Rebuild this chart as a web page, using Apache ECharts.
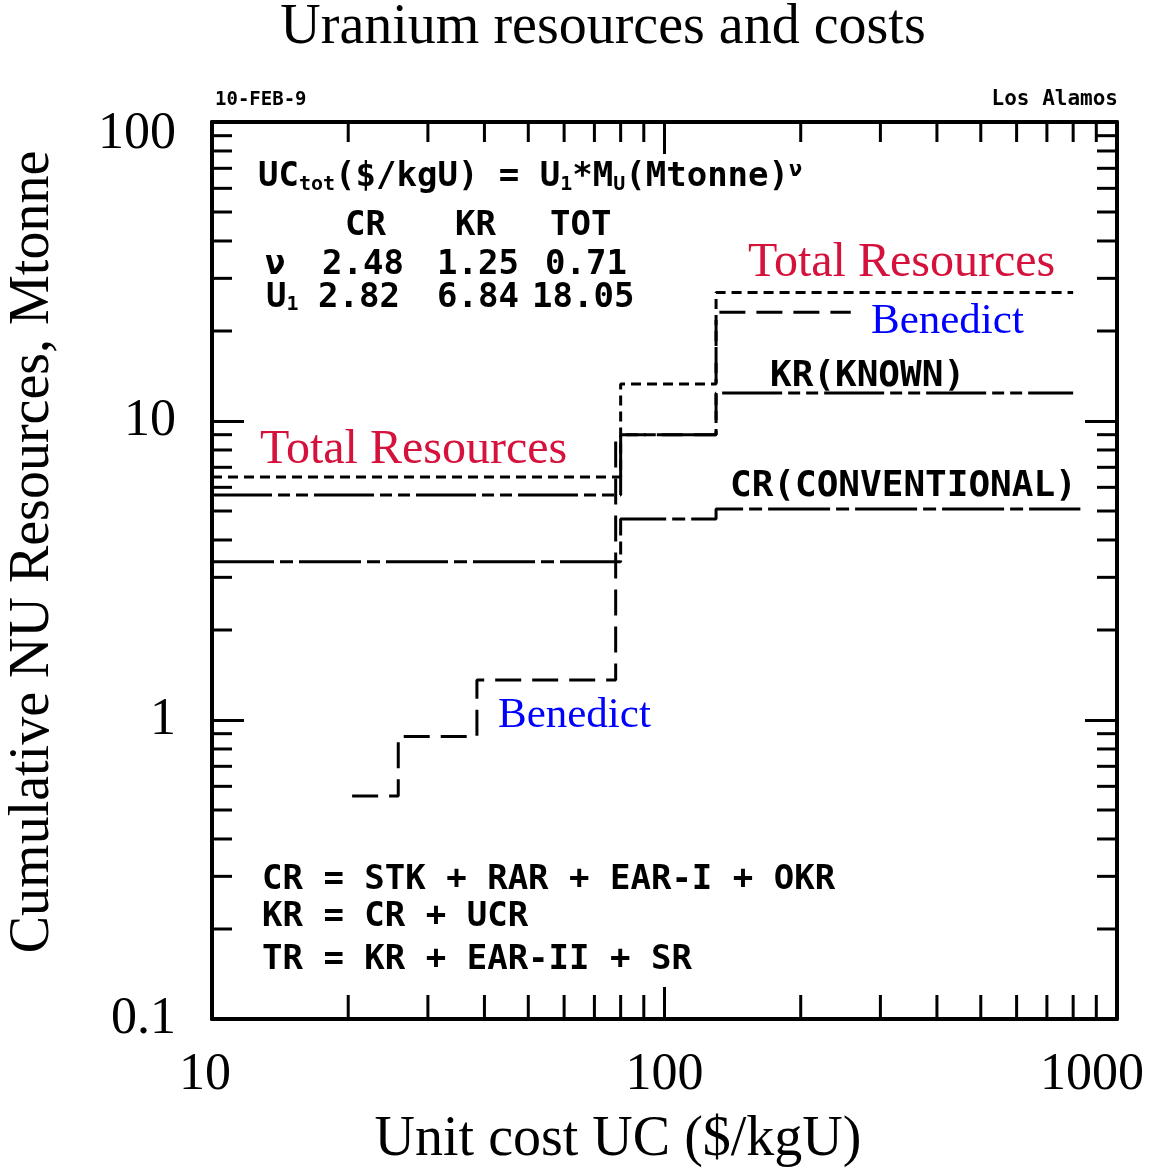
<!DOCTYPE html>
<html>
<head>
<meta charset="utf-8">
<script src="https://cdn.jsdelivr.net/npm/echarts@6/dist/echarts.min.js"></script>
<style>
html,body{margin:0;padding:0;background:#fff;}
#chart{width:1154px;height:1176px;}
</style>
</head>
<body>
<div id="chart"></div>
<script>
// ---- data ----
const totCost = [10, 80, 80, 130, 130, 800];
const totRes  = [6.5, 6.5, 13.3, 13.3, 26.9, 26.9];
const krCost  = [10, 80, 80, 130, 130, 800];
const krRes   = [5.66, 5.66, 9.0, 9.0, 12.4, 12.4];
const crCost  = [10, 80, 80, 130, 130, 830];
const crRes   = [3.38, 3.38, 4.7, 4.7, 5.08, 5.08];
const benCost = [20.4, 25.8, 25.8, 38.5, 38.5, 78, 78, 130, 130, 258];
const benRes  = [0.557, 0.557, 0.88, 0.88, 1.36, 1.36, 9.0, 9.0, 23.1, 23.1];

const xMinorTicks = [20, 30, 40, 50, 60, 70, 80, 90, 200, 300, 400, 500, 600, 700, 800, 900];
const yMinorTicks = [0.2, 0.3, 0.4, 0.5, 0.6, 0.7, 0.8, 0.9, 2, 3, 4, 5, 6, 7, 8, 9, 20, 30, 40, 50, 60, 70, 80, 90];

const X_MIN = 10, X_MAX = 1000, Y_MIN = 0.1, Y_MAX = 100;

const tableHead = ['CR', 'KR', 'TOT'];
const tableNu   = ['2.48', '1.25', '0.71'];
const tableU1   = ['2.82', '6.84', '18.05'];
const defLines  = ['CR = STK + RAR + EAR-I + OKR', 'KR = CR + UCR', 'TR = KR + EAR-II + SR'];

// ---- helpers ----
const pair = (xs, ys) => xs.map((x, i) => [x, ys[i]]);
const SERIF = '"Liberation Serif", "DejaVu Serif", serif';
const MONO = '"DejaVu Sans Mono", "Liberation Mono", monospace';

function txt(text, x, y, opt) {
  opt = opt || {};
  return {
    type: 'text', x: x, y: y, rotation: opt.rotation || 0, z: 50,
    style: {
      text: text,
      fill: opt.fill || '#000',
      fontSize: opt.size || 34,
      fontFamily: opt.family || MONO,
      fontWeight: opt.weight || 'bold',
      textAlign: opt.align || 'left',
      textVerticalAlign: 'middle',
      rich: opt.rich
    }
  };
}

const chart = echarts.init(document.getElementById('chart'), null, {renderer: 'canvas'});

const axisCommon = {
  type: 'log', logBase: 10,
  splitLine: {show: false},
  axisLine: {show: true, onZero: false, lineStyle: {color: '#000', width: 4}},
  axisTick: {show: true, inside: true, length: 32, lineStyle: {color: '#000', width: 3}},
  minorTick: {show: false}
};

function tickLine(x1, y1, x2, y2) {
  return {type: 'line', shape: {x1: x1, y1: y1, x2: x2, y2: y2}, style: {stroke: '#000', lineWidth: 3}};
}

const lineBase = (name, data, dash) => ({
  name: name, type: 'line', data: data, showSymbol: false, symbol: 'none',
  xAxisIndex: 0, yAxisIndex: 0,
  lineStyle: {color: '#000', width: 3, type: dash},
  z: 5, silent: true, clip: false
});

const rich = {
  m: {fontSize: 34, fontFamily: MONO, fontWeight: 'bold', fill: '#000'},
  s: {fontSize: 20, fontFamily: MONO, fontWeight: 'bold', fill: '#000', verticalAlign: 'bottom', padding: [14, 0, 0, 0]},
  p: {fontSize: 22, fontFamily: MONO, fontWeight: 'bold', fill: '#000', verticalAlign: 'top', padding: [0, 0, 14, 0]}
};

const graphics = [
  txt('Uranium resources and costs', 603, 28, {family: SERIF, weight: 'normal', size: 56, align: 'center'}),
  txt('Cumulative NU Resources, Mtonne', 33, 552, {family: SERIF, weight: 'normal', size: 56, align: 'center', rotation: Math.PI / 2}),
  txt('Unit cost UC ($/kgU)', 618, 1140, {family: SERIF, weight: 'normal', size: 56, align: 'center'}),
  txt('10-FEB-9', 215, 100, {size: 19}),
  txt('Los Alamos', 1118, 100, {size: 21, align: 'right'}),
  txt('{m|UC}{s|tot}{m|($/kgU) = U}{s|1}{m|*M}{s|U}{m|(Mtonne)}{p|\u03BD}', 258, 177, {rich: rich}),
  txt(tableHead[0], 345, 226), txt(tableHead[1], 455, 226), txt(tableHead[2], 550, 226),
  txt('\u03BD', 265, 265), txt(tableNu[0], 322, 265), txt(tableNu[1], 437, 265), txt(tableNu[2], 545, 265),
  txt('{m|U}{s|1}', 266, 298, {rich: rich}), txt(tableU1[0], 318, 298), txt(tableU1[1], 437, 298), txt(tableU1[2], 532, 298),
  txt('KR(KNOWN)', 770, 377, {size: 36}),
  txt('CR(CONVENTIONAL)', 730, 487, {size: 36}),
  txt(defLines[0], 262, 880), txt(defLines[1], 262, 917), txt(defLines[2], 262, 960),
  txt('Total Resources', 260, 450, {family: SERIF, weight: 'normal', size: 48, fill: '#d4123c'}),
  txt('Total Resources', 748, 263, {family: SERIF, weight: 'normal', size: 48, fill: '#d4123c'}),
  txt('Benedict', 498, 716, {family: SERIF, weight: 'normal', size: 43, fill: '#0000ff'}),
  txt('Benedict', 871, 322, {family: SERIF, weight: 'normal', size: 43, fill: '#0000ff'})
];

const lab = {fontSize: 52, fontFamily: SERIF, color: '#000'};
const xLabelRich = {
  n: Object.assign({}, lab),
  l10: Object.assign({}, lab, {padding: [0, 14, 0, 0]}),
  l1000: Object.assign({}, lab, {padding: [0, 50, 0, 0]})
};
const yLabelRich = {
  n: Object.assign({}, lab),
  top: Object.assign({}, lab, {padding: [24, 0, 0, 0]})
};

const option = {
  animation: false,
  backgroundColor: '#fff',
  grid: {left: 212, right: 37, top: 122, bottom: 157, containLabel: false, outerBoundsMode: 'none'},
  xAxis: [
    Object.assign({}, axisCommon, {
      position: 'bottom', min: X_MIN, max: X_MAX,
      axisLabel: {show: true, color: '#000', fontSize: 52, fontFamily: SERIF, margin: 30, rich: xLabelRich,
        formatter: v => v === 1000 ? '{l1000|1000}' : (v === 10 ? '{l10|10}' : '{n|' + v + '}')}
    }),
    Object.assign({}, axisCommon, {
      position: 'top', min: X_MIN, max: X_MAX, axisLabel: {show: false}
    })
  ],
  yAxis: [
    Object.assign({}, axisCommon, {
      position: 'left', min: Y_MIN, max: Y_MAX,
      axisLabel: {show: true, color: '#000', fontSize: 52, fontFamily: SERIF, margin: 36, rich: yLabelRich,
        formatter: v => v === 100 ? '{top|100}' : '{n|' + v + '}'}
    }),
    Object.assign({}, axisCommon, {
      position: 'right', min: Y_MIN, max: Y_MAX, axisLabel: {show: false}
    })
  ],
  series: [
    lineBase('TOT', pair(totCost, totRes), [10, 6]),
    lineBase('KR', pair(krCost, krRes), [60, 6, 12, 6, 12, 6]),
    lineBase('CR', pair(crCost, crRes), [62, 6, 13, 6]),
    lineBase('Benedict', pair(benCost, benRes), [26, 11]),
    {
      type: 'custom', xAxisIndex: 0, yAxisIndex: 0, silent: true, clip: false, z: 4,
      data: xMinorTicks.map(v => [v, 1]),
      renderItem: function (params, api) {
        const v = api.value(0);
        const b = api.coord([v, Y_MIN]);
        const t = api.coord([v, Y_MAX]);
        return {type: 'group', children: [
          tickLine(b[0], b[1], b[0], b[1] - 24),
          tickLine(t[0], t[1], t[0], t[1] + 20)
        ]};
      }
    },
    {
      type: 'custom', xAxisIndex: 0, yAxisIndex: 0, silent: true, clip: false, z: 4,
      data: yMinorTicks.map(v => [10, v]),
      renderItem: function (params, api) {
        const v = api.value(1);
        const l = api.coord([X_MIN, v]);
        const r = api.coord([X_MAX, v]);
        return {type: 'group', children: [
          tickLine(l[0], l[1], l[0] + 20, l[1]),
          tickLine(r[0], r[1], r[0] - 20, r[1])
        ]};
      }
    }
  ],
  graphic: graphics
};

chart.setOption(option);
</script>
</body>
</html>
